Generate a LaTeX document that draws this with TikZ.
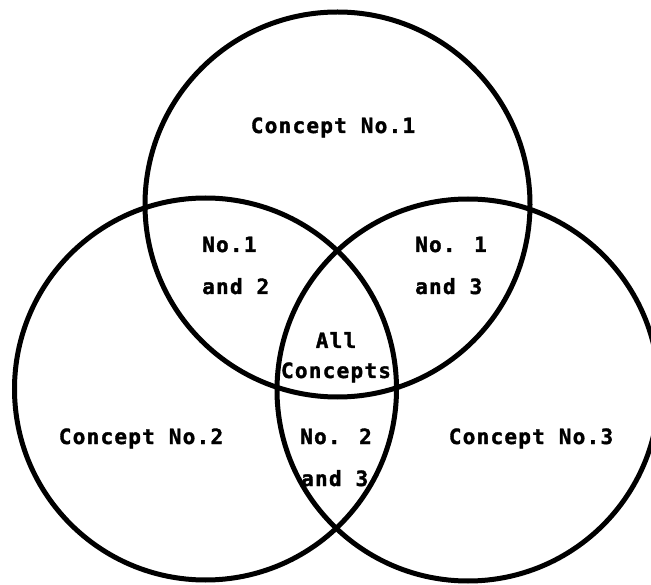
\documentclass[tikz,border=0pt]{standalone}
\usepackage{fontspec}
\newfontfamily\lblfont[LetterSpace=6,FakeBold=1.6]{DejaVu Sans Mono Bold}
\begin{document}
\begin{tikzpicture}[x=1pt,y=-1pt,
  ring/.style={draw=black,line width=5pt},
  lbl/.style={font=\lblfont\fontsize{21}{25}\selectfont,inner sep=0pt}]
\useasboundingbox (0,0) rectangle (651,585);
\path[fill=white] (0,0) rectangle (651,585);
\begin{scope}
\clip (0,0) rectangle (651,585);
\node[ring,circle,minimum size=385pt,inner sep=0pt] (c1) at (337.5,204.5) {};
\node[ring,circle,minimum size=382pt,inner sep=0pt] (c2) at (205.5,389) {};
\node[ring,circle,minimum size=382pt,inner sep=0pt] (c3) at (468,390) {};
\end{scope}
\node[lbl,anchor=base] (t1) at (333,133) {Concept No.1};
\node[lbl,anchor=base west] (t12a) at (202,252) {No.1};
\node[lbl,anchor=base west] (t12b) at (202,294) {and 2};
\node[lbl,anchor=base west] (t13a) at (415,252) {No. 1};
\node[lbl,anchor=base west] (t13b) at (415,294) {and 3};
\node[lbl,anchor=base] (tall) at (336,348) {All};
\node[lbl,anchor=base] (tcon) at (336,378) {Concepts};
\node[lbl,anchor=base] (t2) at (141,444) {Concept No.2};
\node[lbl,anchor=base west] (t23a) at (300,444) {No. 2};
\node[lbl,anchor=base west] (t23b) at (301,486) {and 3};
\node[lbl,anchor=base] (t3) at (531,444) {Concept No.3};
\end{tikzpicture}
\end{document}
